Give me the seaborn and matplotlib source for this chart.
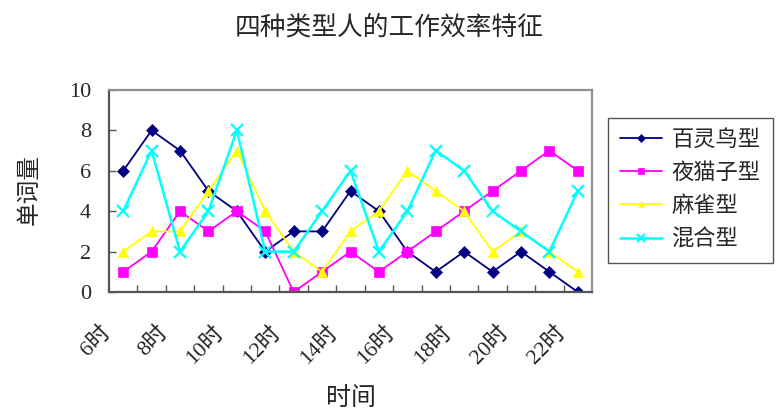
import matplotlib
matplotlib.use("Agg")
import matplotlib.pyplot as plt
import matplotlib.transforms as mtransforms
import seaborn as sns
import pandas as pd
import numpy as np

hours = [f"{h}时" for h in range(6, 23)]
series_names = ["百灵鸟型", "夜猫子型", "麻雀型", "混合型"]
lark = [6, 8, 7, 5, 4, 2, 3, 3, 5, 4, 2, 1, 2, 1, 2, 1, 0]
owl = [1, 2, 4, 3, 4, 3, 0, 1, 2, 1, 2, 3, 4, 5, 6, 7, 6]
sparrow = [2, 3, 3, 5, 7, 4, 2, 1, 3, 4, 6, 5, 4, 2, 3, 2, 1]
mixed = [4, 7, 2, 4, 8, 2, 2, 4, 6, 2, 4, 7, 6, 4, 3, 2, 5]
values = [lark, owl, sparrow, mixed]
colors = ["#000080", "#FF00FF", "#FFFF00", "#00FFFF"]
markers = ["D", "s", "^", "x"]
msizes = [6, 7, 7, 9]
yticks = [0, 2, 4, 6, 8, 10]

sns.set_theme(style="white")
plt.rcParams["font.family"] = ["Liberation Serif", "Noto Sans CJK SC", "DejaVu Sans"]

fig = plt.figure(figsize=(7.79, 4.2), dpi=100)
ax = fig.add_axes([109 / 779, 1 - 292 / 420, (592 - 109) / 779, (292 - 90) / 420])

df = pd.DataFrame({
    "时间": np.tile(hours, len(series_names)),
    "单词量": np.concatenate(values),
    "类型": np.repeat(series_names, len(hours)),
})
df["时间"] = pd.Categorical(df["时间"], categories=hours, ordered=True)
df["pos"] = df["时间"].cat.codes

for name, c, m, ms in zip(series_names, colors, markers, msizes):
    sub = df[df["类型"] == name]
    sns.lineplot(data=sub, x="pos", y="单词量", ax=ax, color=c, marker=m,
                 markersize=ms, markeredgecolor=c, markerfacecolor=c,
                 markeredgewidth=1.6 if m == "x" else 0.5,
                 linewidth=1.8 if m == "x" else 1.3, label=name, sort=False)

ax.set_xlim(-0.5, len(hours) - 0.5)
ax.set_ylim(0, 10)
ax.set_yticks(yticks)
ax.set_yticklabels([str(v) for v in yticks], fontsize=16)

ax.set_xticks(np.arange(0, len(hours), 2))
ax.set_xticklabels(hours[::2], fontsize=16, rotation=45, ha="right",
                   va="center", rotation_mode="anchor")
ax.set_xticks(np.arange(0.5, len(hours) - 0.5, 1), minor=True)
ax.tick_params(axis="x", which="major", length=0, pad=27)
ax.tick_params(axis="x", which="minor", length=5, direction="in",
               width=1, color="#555555", bottom=True)
ax.tick_params(axis="y", which="major", length=5, direction="in",
               width=1, color="#555555", pad=13, left=True)
offset = mtransforms.ScaledTranslation(-0.16, 0, fig.dpi_scale_trans)
for lbl in ax.get_xticklabels():
    lbl.set_transform(lbl.get_transform() + offset)

for side in ["left", "bottom"]:
    ax.spines[side].set_color("#555555")
    ax.spines[side].set_linewidth(1.6)
for side in ["top", "right"]:
    ax.spines[side].set_color("#909090")
    ax.spines[side].set_linewidth(1.6)

ax.set_xlabel("")
ax.set_ylabel("")
fig.text(351 / 779, 1 - 399 / 420, "时间", fontsize=18, ha="center", va="center")
fig.text(30 / 779, 1 - 190 / 420, "单词量", fontsize=17, ha="center", va="center",
         rotation=90)
fig.text(389 / 779, 1 - 27 / 420, "四种类型人的工作效率特征", fontsize=18.5,
         ha="center", va="center")

leg = ax.legend(loc="upper left", bbox_to_anchor=(608 / 779, 1 - 118 / 420),
                bbox_transform=fig.transFigure, borderaxespad=0, fontsize=16,
                frameon=True, fancybox=False, framealpha=1, handlelength=1.9,
                labelspacing=0.55, borderpad=0.55, handletextpad=0.4)
leg.get_frame().set_edgecolor("#555555")
leg.get_frame().set_linewidth(1.0)
for h in leg.get_lines():
    h.set_markersize(h.get_markersize() * 0.7)

fig.savefig("out.png", dpi=100, facecolor="white")
